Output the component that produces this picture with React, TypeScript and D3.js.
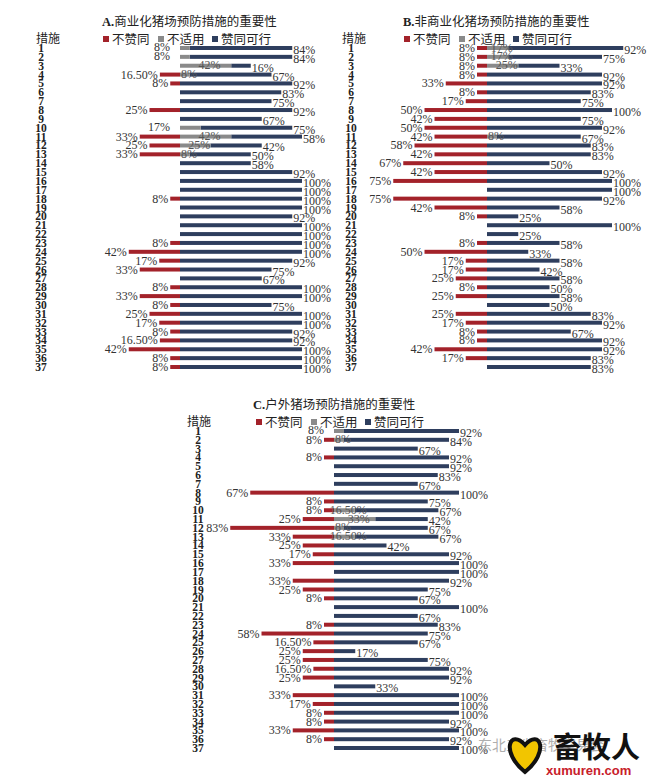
import React from 'react';
import * as d3 from 'd3';

// measures 1..37
const measures = d3.range(1, 38).map(String);

const seriesNames = ['不赞同', '不适用', '赞同可行'];
const colors = ['#a3222a', '#8a8a8a', '#2e3e5e'];

// A. 商业化猪场
const aDisagree = [0, 0, 0, 16.5, 8, 0, 0, 25, 0, 0, 33, 25, 33, 0, 0, 0, 0, 8, 0, 0, 0, 0, 8, 42, 17, 33, 0, 8, 33, 8, 25, 17, 8, 16.5, 42, 8, 8];
const aNA = [8, 8, 42, 8, 0, 0, 0, 0, 0, 17, 42, 25, 8, 0, 0, 0, 0, 0, 0, 0, 0, 0, 0, 0, 0, 0, 0, 0, 0, 0, 0, 0, 0, 0, 0, 0, 0];
const aAgree = [84, 84, 16, 67, 92, 83, 75, 92, 67, 75, 58, 42, 50, 58, 92, 100, 100, 100, 100, 92, 100, 100, 100, 100, 92, 75, 67, 100, 100, 75, 100, 100, 92, 92, 100, 100, 100];

// B. 非商业化猪场
const bDisagree = [8, 8, 8, 8, 33, 8, 17, 50, 42, 50, 42, 58, 42, 67, 42, 75, 0, 75, 42, 8, 0, 0, 8, 50, 17, 17, 25, 8, 25, 0, 25, 17, 8, 8, 42, 17, 0];
const bNA = [17, 17, 25, 0, 0, 0, 0, 0, 0, 0, 8, 0, 0, 0, 0, 0, 0, 0, 0, 0, 0, 0, 0, 0, 0, 0, 0, 0, 0, 0, 0, 0, 0, 0, 0, 0, 0];
const bAgree = [92, 75, 33, 92, 92, 83, 75, 100, 75, 92, 67, 83, 83, 50, 92, 100, 100, 92, 58, 25, 100, 25, 58, 33, 58, 42, 58, 50, 58, 50, 83, 92, 67, 92, 92, 83, 83];

// C. 户外猪场
const cDisagree = [0, 8, 0, 8, 0, 0, 0, 67, 8, 8, 25, 83, 33, 25, 17, 33, 0, 33, 25, 8, 0, 0, 8, 58, 16.5, 25, 25, 16.5, 25, 0, 33, 17, 8, 8, 33, 8, 0];
const cNA = [8, 8, 0, 0, 0, 0, 0, 0, 0, 16.5, 33, 8, 16.5, 0, 0, 0, 0, 0, 0, 0, 0, 0, 0, 0, 0, 0, 0, 0, 0, 0, 0, 0, 0, 0, 0, 0, 0];
const cAgree = [92, 84, 67, 92, 92, 83, 67, 100, 75, 67, 42, 67, 67, 42, 92, 100, 100, 92, 75, 67, 100, 67, 83, 75, 67, 17, 75, 92, 92, 33, 100, 100, 100, 92, 100, 92, 100];

const panels = [
  { key: 'A', title: 'A.商业化猪场预防措施的重要性', titleX: 102, titleY: 26, legendX: 103, legendY: 39, cuoX: 36, numX: 41, center: 180, full: 122, top: 48, bottom: 367, dis: aDisagree, na: aNA, agr: aAgree },
  { key: 'B', title: 'B.非商业化猪场预防措施的重要性', titleX: 403, titleY: 26, legendX: 404, legendY: 39, cuoX: 342, numX: 351, center: 487, full: 125, top: 48, bottom: 367, dis: bDisagree, na: bNA, agr: bAgree },
  { key: 'C', title: 'C.户外猪场预防措施的重要性', titleX: 253, titleY: 409, legendX: 256, legendY: 422, cuoX: 187, numX: 198, center: 334, full: 125, top: 431, bottom: 748, dis: cDisagree, na: cNA, agr: cAgree },
];

const fmt = (v: number) => (v % 1 ? v.toFixed(2) : String(v)) + '%';
const serif = '"Liberation Serif", "DejaVu Serif", serif';
const cjk = '"Noto Sans CJK SC", sans-serif';

const Panel = ({ p }: any) => {
  const y = d3.scalePoint().domain(measures).range([p.top, p.bottom]);
  const xr = d3.scaleLinear().domain([0, 100]).range([p.center, p.center - p.full]);
  const xb = d3.scaleLinear().domain([0, 100]).range([p.center, p.center + p.full]);
  const bh = 4;
  const legendOffsets = [0, 55, 109];
  return (
    <g>
      <text x={p.titleX} y={p.titleY} fontSize={12.5} fill="#222">
        <tspan fontFamily={serif} fontWeight="bold">{p.key}.</tspan>
        <tspan fontFamily={cjk}>{p.title.slice(2)}</tspan>
      </text>
      <text x={p.cuoX} y={p.legendY + 4} fontSize={12} fontFamily={cjk} fill="#222">措施</text>
      {seriesNames.map((s, i) => (
        <g key={s} transform={`translate(${p.legendX + legendOffsets[i]},${p.legendY})`}>
          <rect x={0} y={-3} width={6} height={6} fill={colors[i]} />
          <text x={9} y={4.5} fontSize={12.5} fontFamily={cjk} fill="#222">{s}</text>
        </g>
      ))}
      {measures.map((m, i) => {
        const yy = y(m) as number;
        const d = p.dis[i], n = p.na[i], a = p.agr[i];
        return (
          <g key={m}>
            <text x={p.numX} y={yy + 4} fontSize={11.5} fontWeight="bold" fontFamily={serif} textAnchor="middle" fill="#222">{m}</text>
            {d > 0 && <rect x={xr(d)} y={yy - bh / 2} width={p.center - xr(d)} height={bh} fill={colors[0]} />}
            {a > 0 && <rect x={xb(n)} y={yy - bh / 2} width={xb(n + a) - xb(n)} height={bh} fill={colors[2]} />}
            {n > 0 && <rect x={p.center} y={yy - bh / 2} width={xb(n) - p.center} height={bh} fill={colors[1]} />}
          </g>
        );
      })}
      {measures.map((m, i) => {
        const yy = y(m) as number;
        const d = p.dis[i], n = p.na[i], a = p.agr[i];
        const naLeft = d === 0 && n < 20;
        return (
          <g key={'l' + m} fontFamily={serif} fontSize={12} fill="#333">
            {d > 0 && <text x={xr(d) - 2} y={yy + 4} textAnchor="end">{fmt(d)}</text>}
            {n > 0 && (naLeft
              ? <text x={p.center - 10} y={yy + 3} textAnchor="end">{fmt(n)}</text>
              : <text x={(p.center + xb(n)) / 2 + 4} y={yy + 3.5} textAnchor="middle" fill="#555">{fmt(n)}</text>)}
            {a > 0 && <text x={xb(n + a) + 1} y={yy + 6} textAnchor="start">{fmt(a)}</text>}
          </g>
        );
      })}
    </g>
  );
};

const App = () => (
  <svg width={669} height={780} style={{ position: 'absolute', left: 0, top: 0, background: '#fff' }}>
    <rect width={669} height={780} fill="#fff" />
    {panels.map((p) => <Panel key={p.key} p={p} />)}
    <g>
      <text x={478} y={750} fontSize={14} fontFamily={cjk} fill="#9a9a9a" opacity={0.8}>东北三省畜牧交易会</text>
      <path d="M525,745 C510,728 500,752 525,772 C550,752 540,728 525,745 Z" fill="#f2c500" stroke="#111" strokeWidth={4} />
      <text x={553} y={758} fontSize={29} fontWeight="bold" fontFamily={cjk} fill="#111">畜牧人</text>
      <text x={546} y={775} fontSize={13} fontWeight="bold" fontFamily='"Liberation Sans", sans-serif' fill="#c8202a">xumuren.com</text>
    </g>
  </svg>
);

export default App;
